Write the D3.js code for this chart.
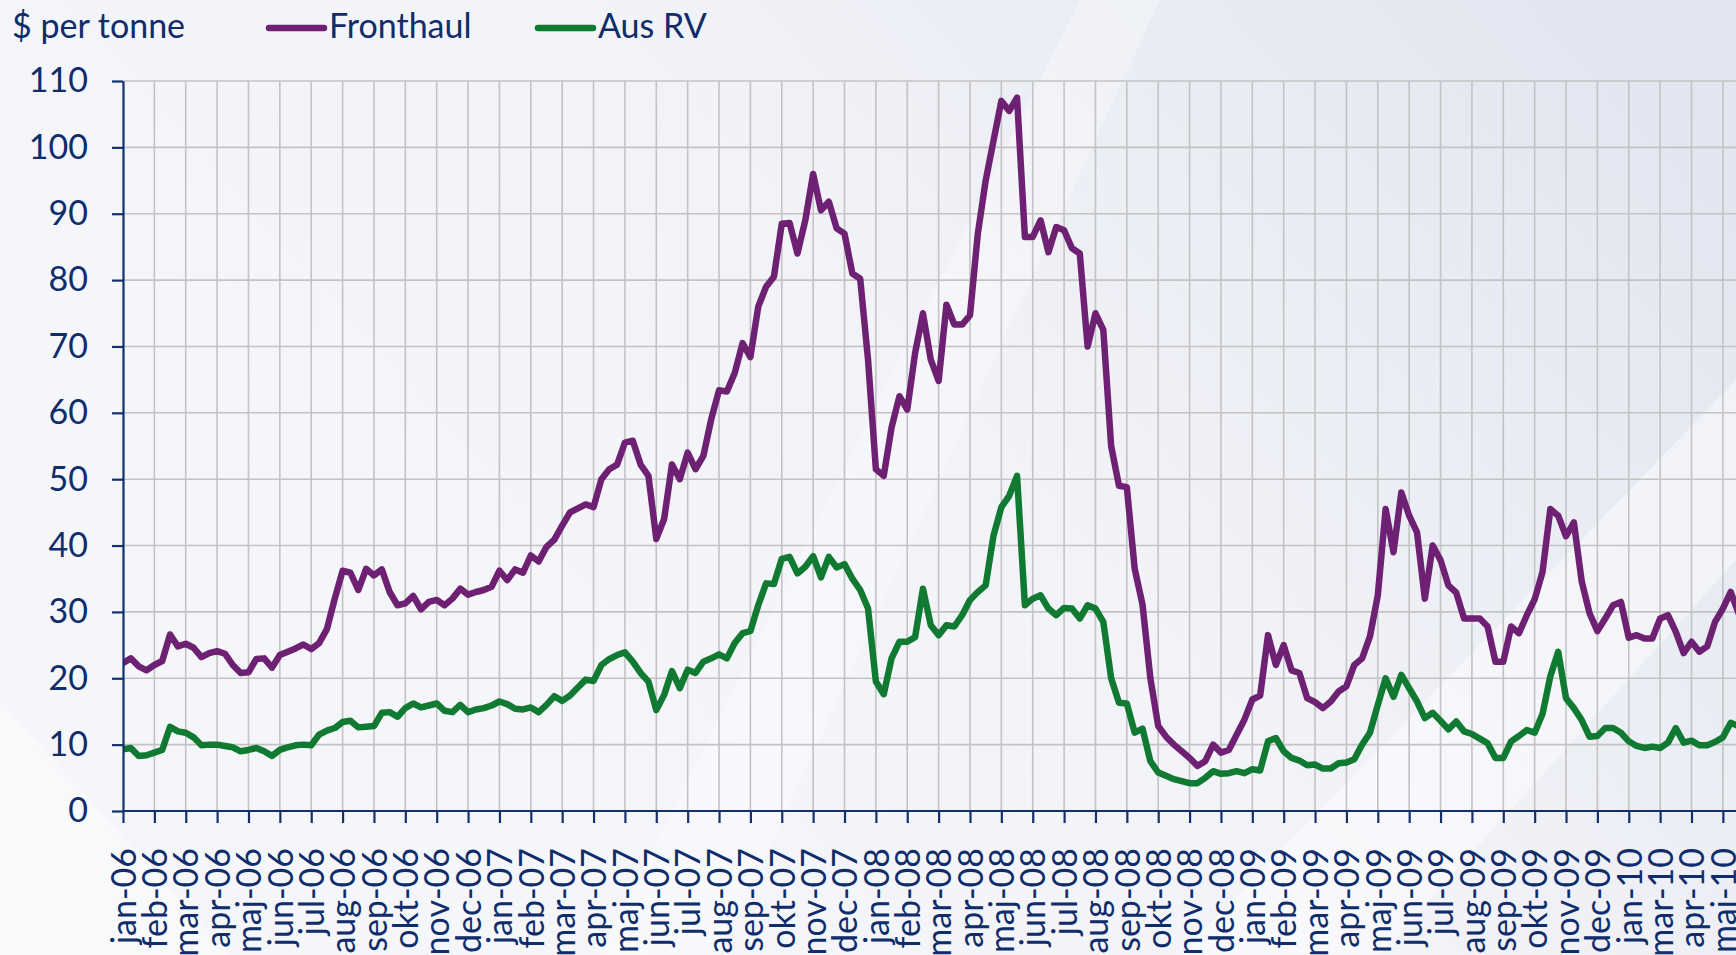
<!DOCTYPE html>
<html>
<head>
<meta charset="utf-8">
<script src="https://cdn.jsdelivr.net/npm/d3@7"></script>
<style>
    body { margin: 0; background: #f3f4f9; }
    svg { display: block; }
</style>
</head>
<body>
<svg id="chart" width="1736" height="955"></svg>
<script>

// Tick labels on the category axis (feb-10 is skipped in the original).
let monthLabels = [
    "jan-06", "feb-06", "mar-06", "apr-06", "maj-06", "jun-06", "jul-06", "aug-06", "sep-06", "okt-06", "nov-06", "dec-06",
    "jan-07", "feb-07", "mar-07", "apr-07", "maj-07", "jun-07", "jul-07", "aug-07", "sep-07", "okt-07", "nov-07", "dec-07",
    "jan-08", "feb-08", "mar-08", "apr-08", "maj-08", "jun-08", "jul-08", "aug-08", "sep-08", "okt-08", "nov-08", "dec-08",
    "jan-09", "feb-09", "mar-09", "apr-09", "maj-09", "jun-09", "jul-09", "aug-09", "sep-09", "okt-09", "nov-09", "dec-09",
    "jan-10", "mar-10", "apr-10", "maj-10"
];

// Four readings per label interval (roughly weekly).
let samplesPerTick = 4;

let yTicks = [0, 10, 20, 30, 40, 50, 60, 70, 80, 90, 100, 110];

// Fronthaul, $ per tonne.
let fronthaul = [
    22.3, 23.0, 21.8, 21.2,   22.0, 22.6, 26.6, 24.8,   25.2, 24.6, 23.2, 23.8,
    24.1, 23.7, 22.0, 20.8,   20.9, 22.9, 23.0, 21.6,   23.5, 24.0, 24.5, 25.1,
    24.4, 25.3, 27.4, 32.0,   36.2, 35.9, 33.3, 36.5,   35.5, 36.4, 33.0, 31.0,
    31.3, 32.4, 30.4, 31.5,   31.8, 31.0, 32.0, 33.5,   32.6, 33.0, 33.3, 33.8,
    36.2, 34.8, 36.4, 35.9,   38.5, 37.6, 39.8, 40.9,   43.0, 45.0, 45.6, 46.2,
    45.8, 50.0, 51.5, 52.2,   55.5, 55.8, 52.2, 50.5,   41.0, 44.0, 52.2, 50.0,
    54.0, 51.5, 53.5, 59.0,   63.4, 63.2, 66.0, 70.5,   68.4, 76.0, 79.0, 80.5,
    88.5, 88.6, 84.0, 89.0,   96.0, 90.5, 91.8, 87.8,   87.0, 81.0, 80.2, 68.0,
    51.5, 50.5, 57.8, 62.5,   60.5, 69.0, 75.0, 68.0,   64.8, 76.3, 73.3, 73.3,
    74.7, 87.0, 95.0, 101.0,  107.0, 105.5, 107.5, 86.5, 86.5, 89.0, 84.2, 88.0,
    87.5, 84.8, 84.0, 70.0,   75.0, 72.5, 55.0, 49.0,   48.8, 36.5, 31.1, 20.0,
    12.8, 11.2, 10.0, 9.0,    8.0, 6.8, 7.5, 10.0,      8.8, 9.2, 11.5, 13.8,
    16.8, 17.4, 26.5, 22.0,   25.0, 21.2, 20.8, 17.0,   16.4, 15.5, 16.5, 18.0,
    18.8, 22.0, 23.0, 26.3,   32.5, 45.5, 39.0, 48.0,   44.5, 42.0, 32.0, 40.0,
    37.8, 34.0, 32.9, 29.0,   29.0, 29.0, 27.8, 22.5,   22.5, 27.8, 26.8, 29.5,
    31.9, 36.0, 45.5, 44.5,   41.4, 43.5, 34.6, 29.8,   27.1, 29.0, 31.0, 31.5,
    26.1, 26.5, 26.0, 26.0,   29.0, 29.5, 27.0, 23.8,   25.5, 24.0, 24.8, 28.5,
    30.5, 33.0, 29.8
];

// Aus RV, $ per tonne.
let ausRV = [
    9.3, 9.5, 8.3, 8.4,       8.8, 9.2, 12.7, 12.0,     11.8, 11.1, 9.9, 10.0,
    10.0, 9.8, 9.6, 9.0,      9.2, 9.5, 9.0, 8.3,       9.2, 9.6, 9.9, 10.0,
    9.9, 11.5, 12.1, 12.5,    13.4, 13.6, 12.6, 12.7,   12.8, 14.8, 14.9, 14.2,
    15.5, 16.2, 15.6, 15.9,   16.2, 15.1, 14.9, 16.0,   14.9, 15.3, 15.5, 15.9,
    16.5, 16.1, 15.4, 15.3,   15.6, 14.9, 16.0, 17.3,   16.6, 17.4, 18.6, 19.8,
    19.6, 22.0, 22.9, 23.5,   23.9, 22.5, 20.8, 19.5,   15.2, 17.5, 21.1, 18.5,
    21.3, 20.8, 22.5, 23.0,   23.6, 23.0, 25.3, 26.8,   27.1, 31.0, 34.3, 34.2,
    38.0, 38.3, 35.8, 36.8,   38.4, 35.2, 38.3, 36.7,   37.2, 35.0, 33.3, 30.5,
    19.5, 17.6, 23.0, 25.5,   25.5, 26.2, 33.5, 28.0,   26.5, 28.0, 27.8, 29.5,
    31.8, 33.0, 34.0, 41.5,   45.8, 47.5, 50.5, 31.0,   32.0, 32.5, 30.5, 29.5,
    30.6, 30.5, 29.0, 31.0,   30.5, 28.5, 20.0, 16.3,   16.2, 11.8, 12.4, 7.5,
    5.8, 5.3, 4.8, 4.5,       4.2, 4.2, 5.0, 6.0,       5.6, 5.7, 6.0, 5.7,
    6.3, 6.1, 10.5, 11.0,     9.0, 8.0, 7.6, 6.9,       7.0, 6.4, 6.4, 7.2,
    7.3, 7.8, 10.0, 11.8,     16.0, 20.0, 17.2, 20.5,   18.5, 16.5, 14.0, 14.8,
    13.6, 12.3, 13.5, 12.0,   11.6, 10.9, 10.2, 8.0,    8.0, 10.5, 11.3, 12.2,
    11.8, 14.6, 20.3, 24.0,   17.0, 15.5, 13.7, 11.2,   11.3, 12.5, 12.5, 11.8,
    10.5, 9.8, 9.5, 9.7,      9.5, 10.3, 12.5, 10.3,    10.6, 9.9, 9.9, 10.4,
    11.1, 13.3, 12.8
];

let seriesNames = ["Fronthaul", "Aus RV"];
let seriesColours = ["#6e2173", "#117a32"];

// Display parameters.
let width = 1736;
let height = 955;
let margin = { left: 123, right: 13, top: 81, bottom: 144 };
let textColour = "#0f2c6b";
let axisColour = "#13306e";
let gridColour = "#c3c3c3";
let lineWidth = 6.5;
let fontFamily = "Lato, 'Open Sans', sans-serif";
let fontSize = "34px";

let svg = d3.select("#chart");

// Background: pale blue-grey with soft diagonal sheen.
let defs = svg.append("defs");

let bg = defs.append("linearGradient")
    .attr("id", "bgGrad")
    .attr("gradientUnits", "userSpaceOnUse")
    .attr("x1", 600).attr("y1", 900)
    .attr("x2", 1600).attr("y2", 0);
bg.append("stop").attr("offset", "0%").attr("stop-color", "#f5f6fa");
bg.append("stop").attr("offset", "45%").attr("stop-color", "#f2f3f8");
bg.append("stop").attr("offset", "100%").attr("stop-color", "#e2e6f0");

svg.append("rect")
    .attr("width", width)
    .attr("height", height)
    .attr("fill", "url(#bgGrad)");

// Lighter diagonal streaks.
let streaks = [
    [[1180, 955], [1380, 955], [1736, 560], [1736, 380]],
    [[600, 955], [720, 955], [1160, 0], [1080, 0]],
    [[0, 955], [230, 955], [0, 700]]
];
svg.append("g")
    .selectAll("polygon")
    .data(streaks)
    .enter()
    .append("polygon")
    .attr("points", function(d) {
        return d.map(p => p.join(",")).join(" ");
    })
    .attr("fill", "#ffffff")
    .attr("opacity", function(d, i) {
        return i === 0 ? 0.45 : 0.3;
    });

// Scales.
let lastTick = monthLabels.length - 1;
let tickStep = 31.37;
let x = d3.scaleLinear()
    .domain([0, lastTick])
    .range([margin.left, margin.left + tickStep * lastTick]);

let y = d3.scaleLinear()
    .domain([0, 110])
    .range([height - margin.bottom, margin.top]);

// Gridlines.
let grid = svg.append("g").attr("class", "grid");

grid.selectAll("line.h")
    .data(yTicks.filter(v => v > 0))
    .enter()
    .append("line")
    .attr("class", "h")
    .attr("x1", margin.left)
    .attr("x2", width)
    .attr("y1", d => y(d))
    .attr("y2", d => y(d))
    .attr("stroke", gridColour)
    .attr("stroke-width", 1.6);

grid.selectAll("line.v")
    .data(d3.range(1, monthLabels.length))
    .enter()
    .append("line")
    .attr("class", "v")
    .attr("x1", d => x(d))
    .attr("x2", d => x(d))
    .attr("y1", y(110))
    .attr("y2", y(0))
    .attr("stroke", gridColour)
    .attr("stroke-width", 1.6);

// Lines.
let allSeries = [fronthaul, ausRV];
let line = d3.line()
    .x((d, i) => x(i / samplesPerTick))
    .y(d => y(d));

svg.append("clipPath")
    .attr("id", "plotClip")
    .append("rect")
    .attr("x", margin.left)
    .attr("y", 0)
    .attr("width", width - margin.left)
    .attr("height", height);

svg.append("g")
    .attr("clip-path", "url(#plotClip)")
    .selectAll("path")
    .data(allSeries)
    .enter()
    .append("path")
    .attr("d", d => line(d))
    .attr("fill", "none")
    .attr("stroke", (d, i) => seriesColours[i])
    .attr("stroke-width", lineWidth)
    .attr("stroke-linejoin", "round")
    .attr("stroke-linecap", "round");

// Y axis.
let yAxis = svg.append("g")
    .attr("transform", `translate(${margin.left},0)`)
    .call(d3.axisLeft(y).tickValues(yTicks).tickSize(11).tickPadding(24).tickSizeOuter(0));

// X axis.
let xAxis = svg.append("g")
    .attr("transform", `translate(0,${y(0)})`)
    .call(d3.axisBottom(x)
        .tickValues(d3.range(monthLabels.length))
        .tickFormat(i => monthLabels[i])
        .tickSize(12)
        .tickSizeOuter(0));

xAxis.select(".domain").attr("d", `M${margin.left},0H${width}`);

xAxis.selectAll("text")
    .attr("transform", "rotate(-90)")
    .attr("x", -37)
    .attr("y", 0)
    .attr("dy", "0.36em")
    .style("text-anchor", "end");

[yAxis, xAxis].forEach(function(axis) {
    axis.selectAll(".domain, line")
        .attr("stroke", axisColour)
        .attr("stroke-width", 2.2);
    axis.selectAll("text")
        .attr("fill", textColour)
        .style("font-family", fontFamily)
        .style("font-size", fontSize);
});

// Unit label.
svg.append("text")
    .attr("x", 12)
    .attr("y", 38)
    .attr("fill", textColour)
    .style("font-family", fontFamily)
    .style("font-size", fontSize)
    .text("$ per tonne");

// Legend.
let legendX = [269, 538];
let legend = svg.append("g")
    .selectAll("g")
    .data(seriesNames)
    .enter()
    .append("g")
    .attr("transform", (d, i) => `translate(${legendX[i]},0)`);

legend.append("line")
    .attr("x1", 0)
    .attr("x2", 55)
    .attr("y1", 28)
    .attr("y2", 28)
    .attr("stroke", (d, i) => seriesColours[i])
    .attr("stroke-width", lineWidth)
    .attr("stroke-linecap", "round");

legend.append("text")
    .attr("x", 60)
    .attr("y", 38)
    .attr("fill", textColour)
    .style("font-family", fontFamily)
    .style("font-size", fontSize)
    .text(d => d);

</script>
</body>
</html>
